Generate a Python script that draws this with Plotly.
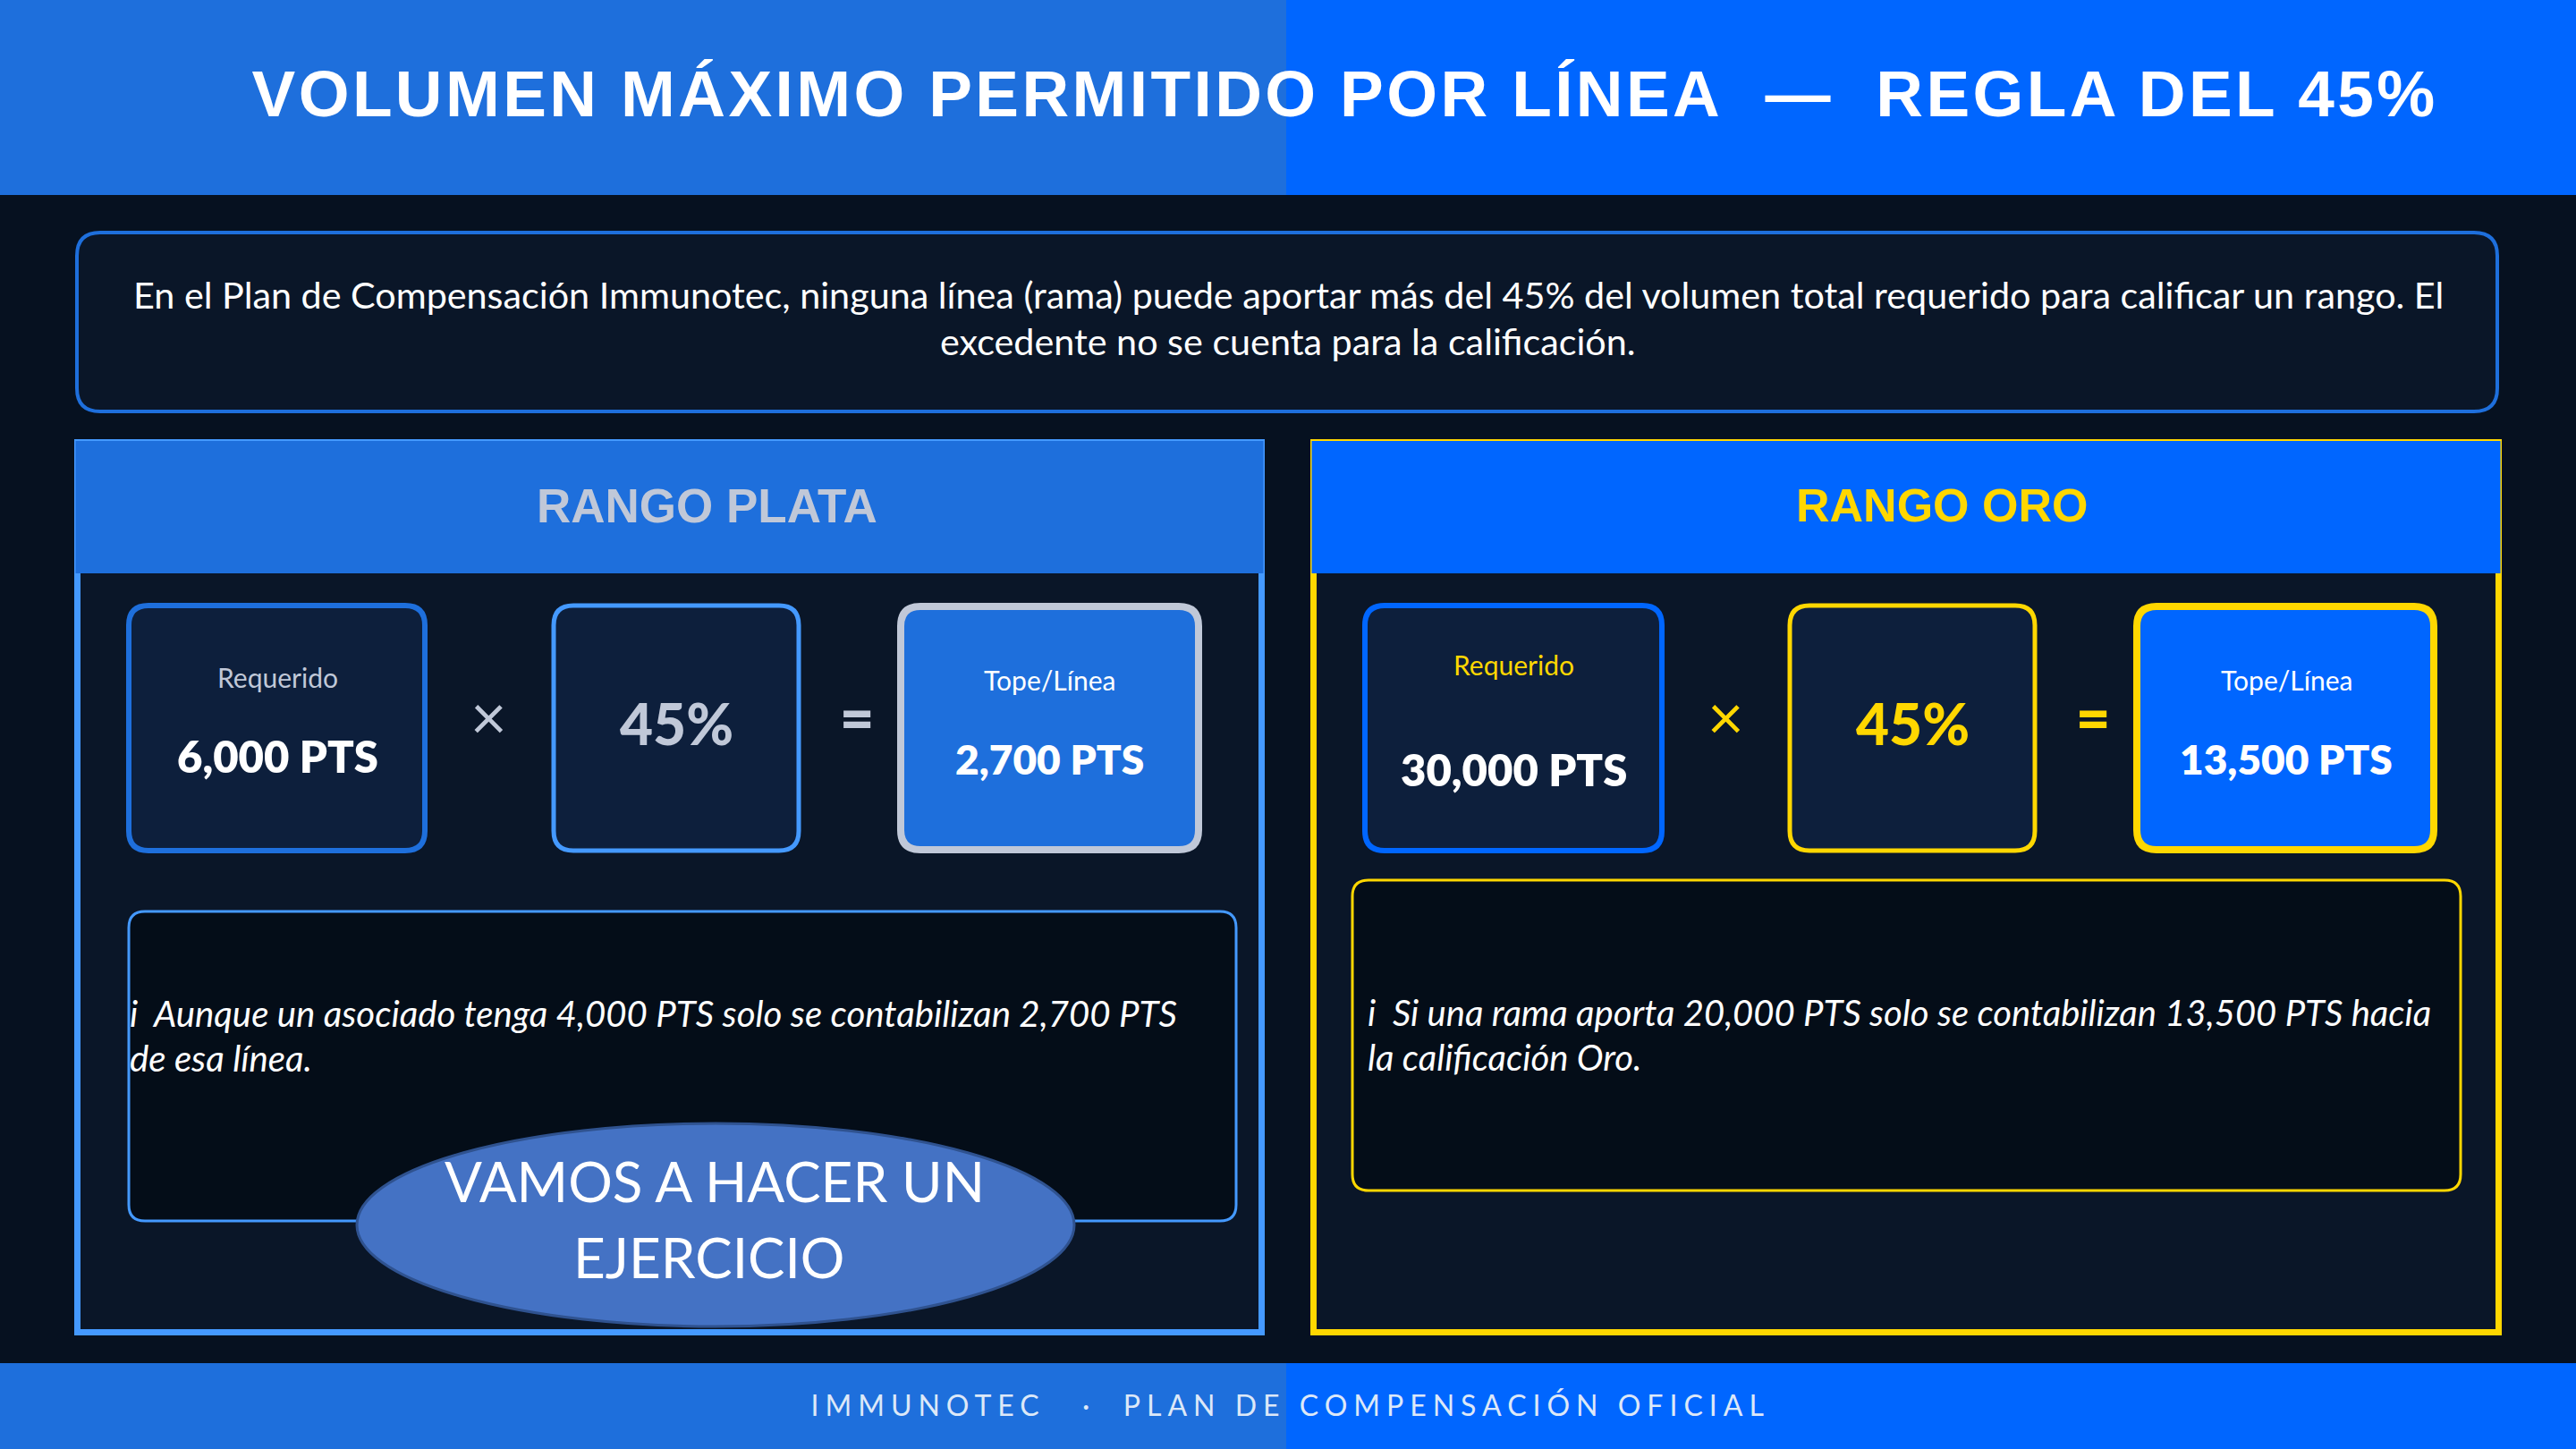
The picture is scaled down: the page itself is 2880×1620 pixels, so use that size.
import plotly.graph_objects as go

# Text and values
titulo = "VOLUMEN MÁXIMO PERMITIDO POR LÍNEA\u00a0\u00a0—\u00a0\u00a0REGLA DEL 45%"
intro = ["En el Plan de Compensación Immunotec, ninguna línea (rama) puede aportar más del 45% del volumen total requerido para calificar un rango. El",
         "excedente no se cuenta para la calificación."]
pie = "IMMUNOTEC\u00a0\u00a0\u2009·\u00a0\u00a0PLAN DE COMPENSACIÓN OFICIAL"
rangos = ["RANGO PLATA", "RANGO ORO"]
requerido = ["6,000 PTS", "30,000 PTS"]
porcentaje = ["45%", "45%"]
tope = ["2,700 PTS", "13,500 PTS"]
etiqueta_req = "Requerido"
etiqueta_tope = "Tope/Línea"
nota_plata = ["i\u00a0\u00a0Aunque un asociado tenga 4,000 PTS solo se contabilizan 2,700 PTS", "de esa línea."]
nota_oro = ["i\u00a0\u00a0Si una rama aporta 20,000 PTS solo se contabilizan 13,500 PTS hacia", "la calificación Oro."]
ejercicio = ["VAMOS A HACER UN", "EJERCICIO"]

# colours
BG = "#061120"
PANEL = "#0A1628"
CARD = "#0D1F3C"
NOTE = "#040D18"
AZUL = "#1E6FDC"
AZUL2 = "#0066FF"
CLARO = "#4499FF"
PLATA = "#C0C8D8"
ORO = "#FFD700"
BLANCO = "#FFFFFF"

SANS = "Lato"
ARIAL = "Liberation Sans"

fig = go.Figure()


def rrect(x0, y0, x1, y1, r, fill, line=None, w=0):
    p = (f"M{x0+r},{y0} L{x1-r},{y0} Q{x1},{y0} {x1},{y0+r} L{x1},{y1-r} Q{x1},{y1} {x1-r},{y1} "
         f"L{x0+r},{y1} Q{x0},{y1} {x0},{y1-r} L{x0},{y0+r} Q{x0},{y0} {x0+r},{y0} Z")
    fig.add_shape(type="path", path=p, fillcolor=fill, line=dict(color=line or fill, width=w))


def rect(x0, y0, x1, y1, fill, line=None, w=0):
    fig.add_shape(type="rect", x0=x0, y0=y0, x1=x1, y1=y1, fillcolor=fill,
                  line=dict(color=line or fill, width=w))


def txt(x, y, s, size, color=BLANCO, family=SANS, weight=400, italic=False, anchor="center"):
    fig.add_annotation(x=x, y=y, text=s, showarrow=False, xanchor=anchor, yanchor="middle",
                       font=dict(size=size, color=color, family=family, weight=weight,
                                 style="italic" if italic else "normal"))


# header and footer strips
rect(0, 0, 1438, 218, AZUL)
rect(1438, 0, 2880, 218, AZUL2)
rect(0, 1524, 1438, 1620, AZUL)
rect(1438, 1524, 2880, 1620, AZUL2)
txt(1503, 104, titulo, 73, family=ARIAL, weight=700)
txt(1442, 1570, pie, 32, color="#DCE8F8")

# intro box
rrect(86, 260, 2792, 460, 26, PANEL, AZUL, 4)
txt(1440, 329, intro[0], 41.3)
txt(1440, 381, intro[1], 41.3)

# left panel
rect(86.5, 494.5, 1410.5, 1489.5, PANEL, CLARO, 7)
rect(84.5, 493, 1412.5, 641, AZUL)
txt(790, 565, rangos[0], 53, color=PLATA, family=ARIAL, weight=700)

rrect(144, 677, 475, 951, 22, CARD, AZUL, 6)
rrect(619, 677, 893, 951, 22, CARD, CLARO, 5)
rrect(1007, 678, 1340, 950, 22, AZUL, PLATA, 8)
txt(310, 757, etiqueta_req, 30, color=PLATA)
txt(310, 845, requerido[0], 49, weight=800)
txt(546, 800, "×", 70, color=PLATA)
txt(756, 808, porcentaje[0], 64, color=PLATA, weight=900)
txt(958, 801, "=", 66, color=PLATA, weight=800)
txt(1173, 760, etiqueta_tope, 30)
txt(1173, 848, tope[0], 46, weight=800)

rrect(144, 1019, 1382, 1365, 18, NOTE, CLARO, 3)
txt(143, 1132, nota_plata[0], 40.2, italic=True, anchor="left")
txt(143, 1182, nota_plata[1], 40.2, italic=True, anchor="left")

fig.add_shape(type="circle", x0=399, y0=1256, x1=1201, y1=1483, fillcolor="#4472C4",
              line=dict(color="#2F528F", width=3))
txt(799, 1320, ejercicio[0], 62)
txt(792, 1405, ejercicio[1], 62)

# right panel
rect(1468.5, 494.5, 2793.5, 1489.5, PANEL, ORO, 7)
rect(1466.5, 493, 2795.5, 641, AZUL2)
txt(2171, 565, rangos[1], 52, color=ORO, family=ARIAL, weight=700)

rrect(1526, 677, 1858, 951, 22, CARD, AZUL2, 6)
rrect(2001, 677, 2275, 951, 22, CARD, ORO, 5)
rrect(2389, 678, 2721, 950, 22, AZUL2, ORO, 8)
txt(1692, 743, etiqueta_req, 30, color=ORO)
txt(1692, 860, requerido[1], 49, weight=800)
txt(1929, 800, "×", 70, color=ORO)
txt(2138, 808, porcentaje[1], 64, color=ORO, weight=900)
txt(2340, 801, "=", 66, color=ORO, weight=800)
txt(2556, 760, etiqueta_tope, 30)
txt(2556, 848, tope[1], 46, weight=800)

rrect(1512, 984, 2751, 1331, 18, NOTE, ORO, 3)
txt(1527, 1132, nota_oro[0], 40, italic=True, anchor="left")
txt(1527, 1182, nota_oro[1], 40, italic=True, anchor="left")

fig.update_layout(width=2880, height=1620, margin=dict(l=0, r=0, t=0, b=0),
                  paper_bgcolor=BG, plot_bgcolor=BG, showlegend=False)
fig.update_xaxes(range=[0, 2880], visible=False, fixedrange=True)
fig.update_yaxes(range=[1620, 0], visible=False, fixedrange=True)

# plotly has no letter spacing option, so set it on the two wide texts once drawn
post = """
document.body.style.margin = '0';
var gd = document.getElementById('{plot_id}');
function tracking() {
  document.querySelectorAll('.annotation-text').forEach(function (t) {
    if (t.textContent.indexOf('VOLUMEN') === 0) t.style.letterSpacing = '3.4px';
    if (t.textContent.indexOf('IMMUNOTEC') === 0) t.style.letterSpacing = '7px';
  });
}
tracking();
gd.on('plotly_afterplot', tracking);
setTimeout(tracking, 200);
"""
fig.write_html("out.html", post_script=post, config=dict(displayModeBar=False))
